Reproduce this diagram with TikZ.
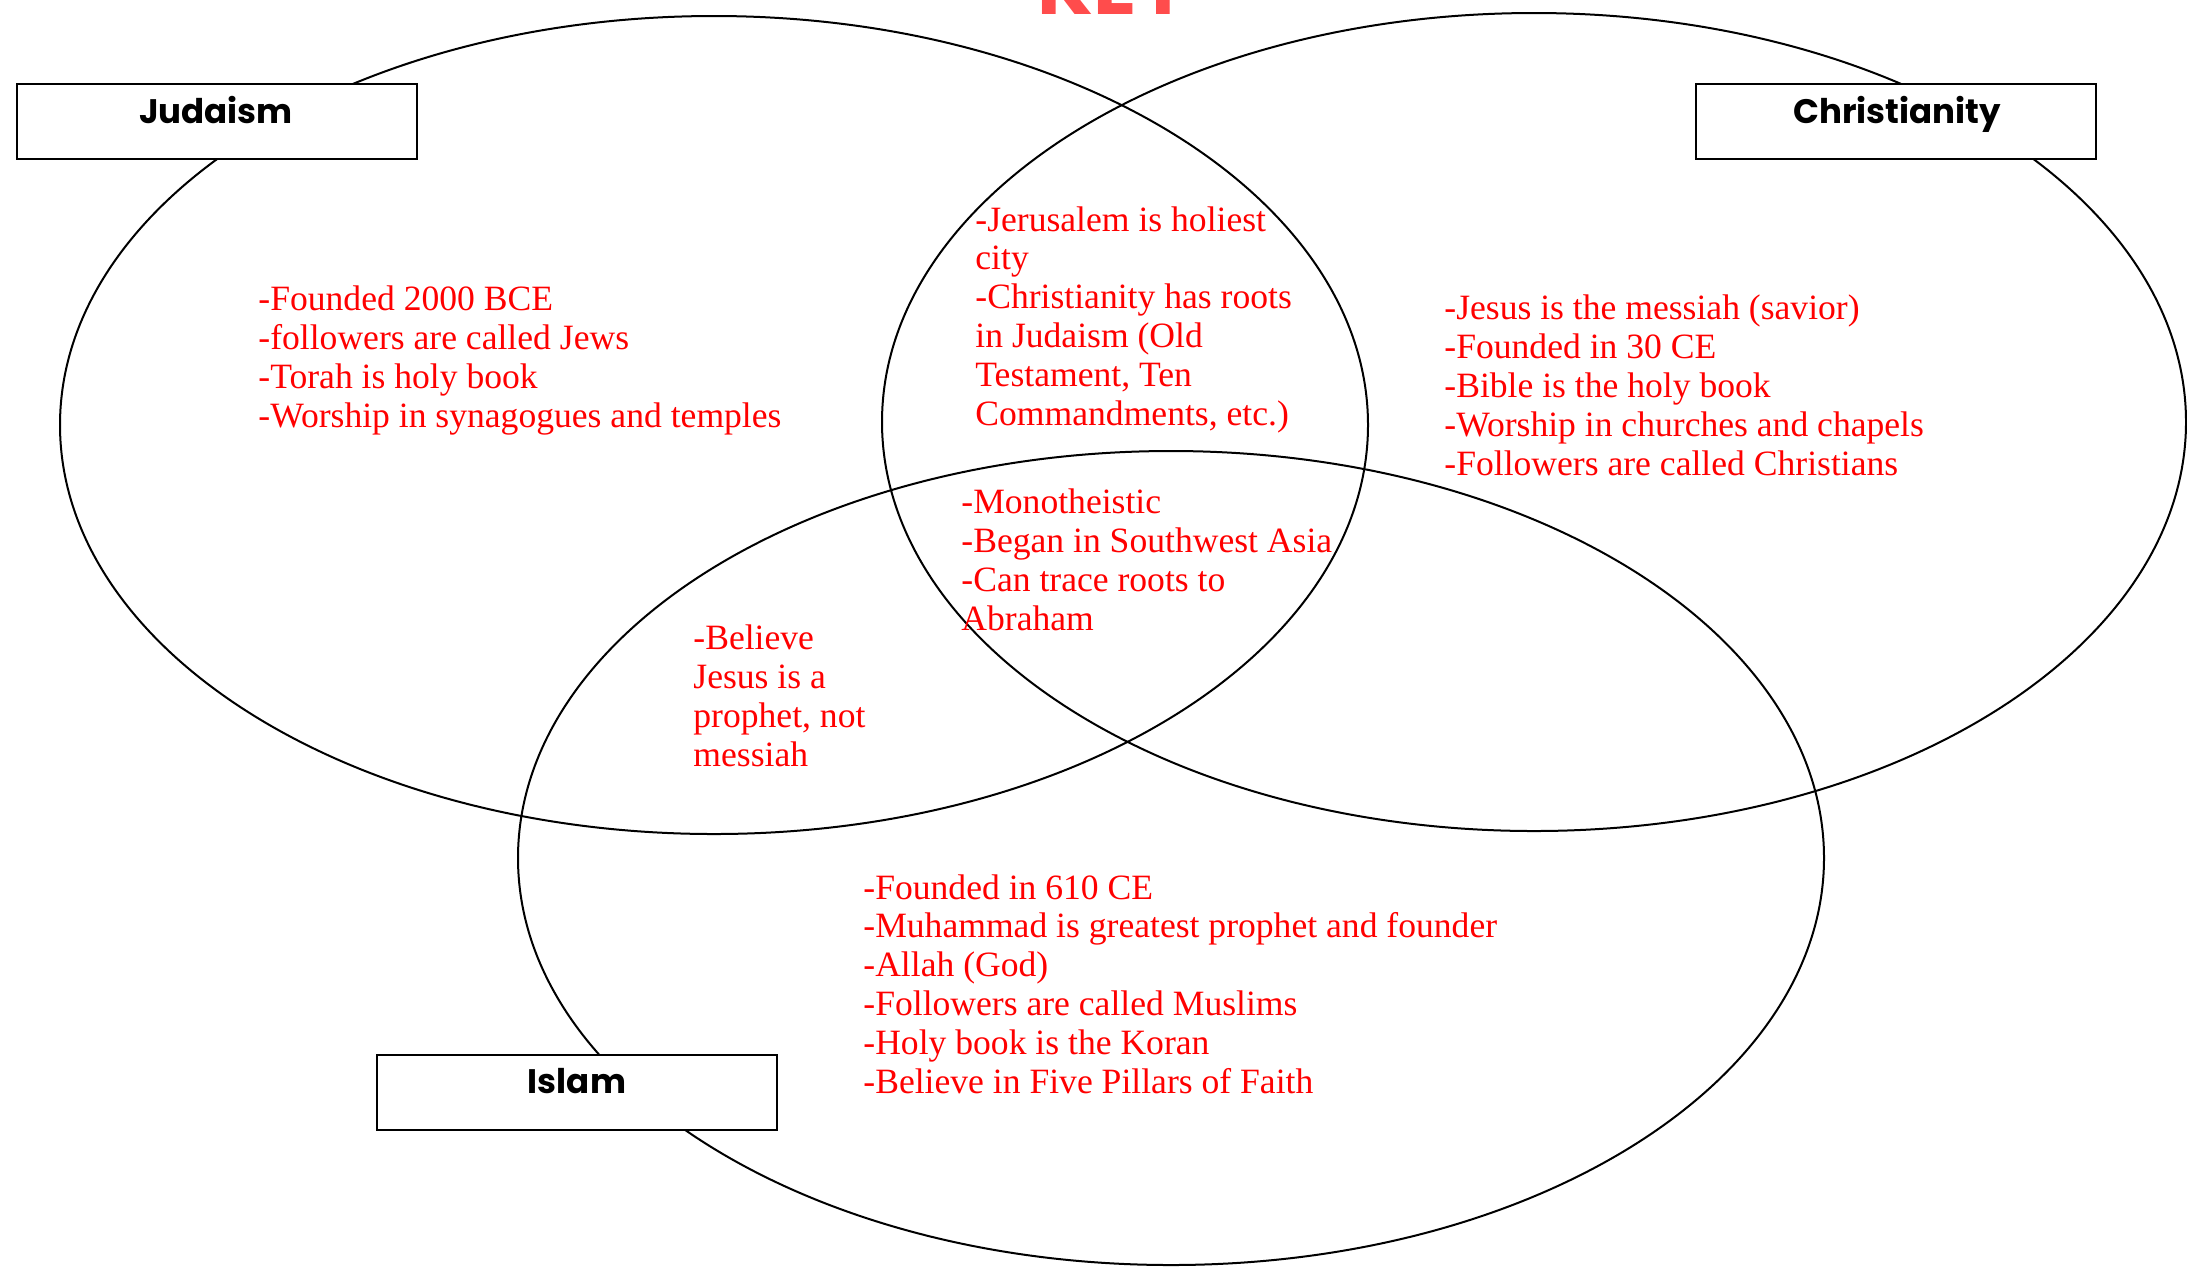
\documentclass[tikz,border=0pt]{standalone}
\usepackage{fontspec}
\setmainfont{Liberation Serif}
\newfontfamily\labelfont{Poppins}
\begin{document}
\begin{tikzpicture}[x=0.5pt,y=-0.5pt,
  venn/.style={draw=black, line width=1pt},
  keybox/.style={draw=black, line width=1.2pt, fill=white, minimum width=200pt, minimum height=37.5pt, inner sep=0pt},
  boxlabel/.style={font=\labelfont\bfseries\fontsize{17}{20}\selectfont, anchor=base, inner sep=0pt},
  facts/.style={text=red, font=\fontsize{17.8}{19.4}\selectfont, align=left, anchor=base west, inner sep=0pt}]
\useasboundingbox (0,0) rectangle (2187,1266);
\clip (0,0) rectangle (2187,1266);
% title, cut by the top edge
\node[anchor=base, inner sep=0pt, text=red!70, font=\labelfont\bfseries\fontsize{40}{42}\selectfont] (key) at (1114,14) {KEY};
% circles
\draw[venn] (714,425) ellipse [x radius=327pt, y radius=204.5pt];
\draw[venn] (1534,422) ellipse [x radius=326pt, y radius=204.5pt];
\draw[venn] (1171,858) ellipse [x radius=326.5pt, y radius=203.5pt];
% boxes
\node[keybox] (jbox) at (217,121.5) {};
\node[keybox] (cbox) at (1896,121.5) {};
\node[keybox] (ibox) at (577,1092.5) {};
\node[boxlabel] (jlab) at (216,123) {Judaism};
\node[boxlabel] (clab) at (1897,123) {Christianity};
\node[boxlabel] (ilab) at (577,1093) {Islam};
% facts (anchored at the baseline of their last line)
\node[facts] (jfacts) at (258,427) {-Founded 2000 BCE\\-followers are called Jews\\-Torah is holy book\\-Worship in synagogues and temples};
\node[facts] (jcfacts) at (975,425) {-Jerusalem is holiest\\city\\-Christianity has roots\\in Judaism (Old\\Testament, Ten\\Commandments, etc.)};
\node[facts] (cfacts) at (1444,475) {-Jesus is the messiah (savior)\\-Founded in 30 CE\\-Bible is the holy book\\-Worship in churches and chapels\\-Followers are called Christians};
\node[facts] (allfacts) at (961,630) {-Monotheistic\\-Began in Southwest Asia\\-Can trace roots to\\Abraham};
\node[facts] (jifacts) at (693,766) {-Believe\\Jesus is a\\prophet, not\\messiah};
\node[facts] (ifacts) at (863,1093) {-Founded in 610 CE\\-Muhammad is greatest prophet and founder\\-Allah (God)\\-Followers are called Muslims\\-Holy book is the Koran\\-Believe in Five Pillars of Faith};
\end{tikzpicture}
\end{document}
